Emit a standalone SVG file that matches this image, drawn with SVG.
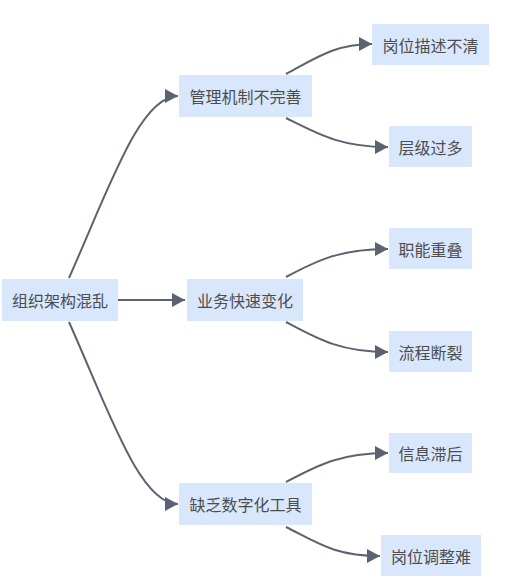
<svg xmlns="http://www.w3.org/2000/svg" width="509" height="586" viewBox="0 0 509 586">
<defs>
<style>
.node rect{fill:#d9e7fc;stroke:none;}
.node text{font-family:"Noto Sans CJK SC","Microsoft YaHei",sans-serif;font-size:16px;fill:#4d4d4d;text-anchor:middle;dominant-baseline:central;}
.edge{fill:none;stroke:#5b6370;stroke-width:2;marker-end:url(#arrow);}
</style>
<marker id="arrow" markerUnits="userSpaceOnUse" markerWidth="14" markerHeight="14" refX="13" refY="7" orient="auto">
<path d="M0,0 L13,7 L0,14 z" fill="#5b6370"/>
</marker>
</defs>
<rect width="509" height="586" fill="#ffffff"/>
<g id="connectors">
<path class="edge" d="M118,300 L185,300"/>
<path class="edge" d="M69,278 C110,186 140,96 178,96"/>
<path class="edge" d="M69,322 C110,414 140,504 178,504"/>
<path class="edge" d="M286,74 C316,58 335,44 372,44"/>
<path class="edge" d="M286,118 C318,134 340,147 388,147"/>
<path class="edge" d="M286,277 C318,260 340,249 388,249"/>
<path class="edge" d="M286,322 C318,339 340,352 388,352"/>
<path class="edge" d="M286,482 C318,465 340,453 388,453"/>
<path class="edge" d="M286,527 C318,543 335,556 380,556"/>
</g>
<g id="root" class="node"><rect x="2" y="279" width="116" height="42"/><text x="60" y="300">组织架构混乱</text></g>
<g id="mid1" class="node"><rect x="179" y="75" width="133" height="42"/><text x="245.5" y="96">管理机制不完善</text></g>
<g id="mid2" class="node"><rect x="187" y="279" width="116" height="42"/><text x="245" y="300">业务快速变化</text></g>
<g id="mid3" class="node"><rect x="179" y="483" width="133" height="42"/><text x="245.5" y="504">缺乏数字化工具</text></g>
<g id="leaf1" class="node"><rect x="372" y="24" width="117" height="41"/><text x="430.5" y="44.5">岗位描述不清</text></g>
<g id="leaf2" class="node"><rect x="389" y="126" width="83" height="41"/><text x="430.5" y="146.5">层级过多</text></g>
<g id="leaf3" class="node"><rect x="389" y="228" width="83" height="41"/><text x="430.5" y="248.5">职能重叠</text></g>
<g id="leaf4" class="node"><rect x="389" y="331" width="83" height="41"/><text x="430.5" y="351.5">流程断裂</text></g>
<g id="leaf5" class="node"><rect x="389" y="433" width="83" height="40"/><text x="430.5" y="453">信息滞后</text></g>
<g id="leaf6" class="node"><rect x="381" y="535" width="100" height="41"/><text x="431" y="555.5">岗位调整难</text></g>
</svg>
